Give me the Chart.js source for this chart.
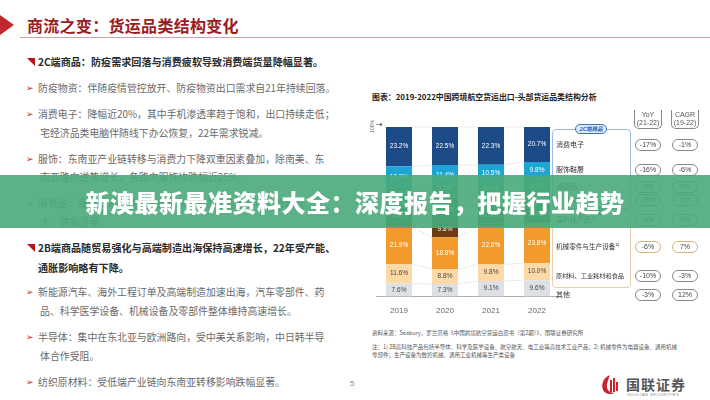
<!DOCTYPE html>
<html><head><meta charset="utf-8">
<script src="https://cdn.jsdelivr.net/npm/chart.js@4.4.0/dist/chart.umd.min.js"></script>
<style>
html,body{margin:0;padding:0;background:#fff;}
body{width:710px;height:400px;overflow:hidden;font-family:"Noto Sans CJK SC","Noto Sans",sans-serif;}
#root{position:relative;width:710px;height:400px;}
.t{position:absolute;white-space:nowrap;line-height:1;}
.body{font-size:9.9px;color:#6a6a6a;}
.hd{font-size:10.1px;color:#2a2a2a;font-weight:700;}
.arr{position:absolute;font-family:"DejaVu Sans";font-size:9px;color:#c0282d;line-height:1;}
.tri{position:absolute;width:0;height:0;border-top:8px solid #b0161c;border-left:8px solid transparent;}
.lg{position:absolute;font-size:7px;color:#333;white-space:nowrap;line-height:1;}
.pill{position:absolute;width:24px;height:10px;border:1px solid #888;border-radius:6px;font-family:"Liberation Sans",Arial;font-size:7px;color:#444;text-align:center;line-height:10px;box-sizing:content-box;}
.hdrbox{position:absolute;width:26px;height:17px;border:1px solid #888;border-top:none;border-radius:0 0 5px 5px;font-family:"Liberation Sans",Arial;font-size:7px;color:#555;text-align:center;line-height:8px;padding-top:1px;}
#banner{position:absolute;left:0;top:175px;width:710px;height:53px;background:rgba(74,170,122,0.9);}
#bannertext{position:absolute;left:0;top:175px;width:710px;height:53px;text-align:center;line-height:53px;color:#fff;font-size:24px;font-weight:900;letter-spacing:0.5px;}
</style></head>
<body><div id="root">
<!-- title -->
<div style="position:absolute;left:0;top:15px;width:0;height:0;border-top:10px solid transparent;border-bottom:10px solid transparent;border-left:14px solid #c0282d;"></div>
<div class="t" style="left:27px;top:17px;font-size:16px;color:#9b1b1f;font-weight:700;letter-spacing:0.3px;">商流之变：货运品类结构变化</div>
<div style="position:absolute;left:20px;top:37px;width:690px;height:1px;background:#c9a3a3;"></div>

<!-- left text -->
<div class="tri" style="left:27px;top:58px;"></div>
<div class="t hd" style="left:38px;top:57px;">2C端商品：防疫需求回落与消费疲软导致消费端货量降幅显著。</div>
<div class="arr" style="left:26px;top:84px;">➢</div>
<div class="t body" style="left:38px;top:84px;">防疫物资：伴随疫情管控放开、防疫物资出口需求自21年持续回落。</div>
<div class="arr" style="left:26px;top:110px;">➢</div>
<div class="t body" style="left:38px;top:110px;">消费电子：降幅近20%，其中手机渗透率趋于饱和，出口持续走低；</div>
<div class="t body" style="left:40px;top:129px;">宅经济品类电脑伴随线下办公恢复，22年需求锐减。</div>
<div class="arr" style="left:26px;top:155px;">➢</div>
<div class="t body" style="left:38px;top:155px;">服饰：东南亚产业链转移与消费力下降双重因素叠加，除南美、东</div>
<div class="t body" style="left:40px;top:173px;">南亚路向逆势增长，各路向服饰均跌幅近25%。</div>
<div class="arr" style="left:26px;top:199px;">➢</div>
<div class="t body" style="left:38px;top:199px;">消费品：海外高通胀抑制消费需求，叠加去库存影响，降幅较</div>
<div class="t body" style="left:40px;top:218px;">大，跌幅显著。</div>
<div class="tri" style="left:27px;top:244px;"></div>
<div class="t hd" style="left:38px;top:243px;">2B端商品随贸易强化与高端制造出海保持高速增长，22年受产能、</div>
<div class="t hd" style="left:38px;top:263px;">通胀影响略有下降。</div>
<div class="arr" style="left:26px;top:288px;">➢</div>
<div class="t body" style="left:38px;top:288px;">新能源汽车、海外工程订单及高端制造加速出海，汽车零部件、药</div>
<div class="t body" style="left:40px;top:307px;">品、科学医学设备、机械设备及零部件整体维持高速增长。</div>
<div class="arr" style="left:26px;top:333px;">➢</div>
<div class="t body" style="left:38px;top:333px;">半导体：集中在东北亚与欧洲路向，受中美关系影响，中日韩半导</div>
<div class="t body" style="left:40px;top:352px;">体合作受阻。</div>
<div class="arr" style="left:26px;top:378px;">➢</div>
<div class="t body" style="left:38px;top:378px;">纺织原材料：受低端产业链向东南亚转移影响跌幅显著。</div>
<div class="t" style="left:350px;top:380px;font-size:8px;color:#888;font-family:'Liberation Sans';">5</div>

<!-- chart title -->
<div class="t" style="left:372px;top:93px;font-size:7.9px;color:#222;font-weight:700;">图表：2019-2022中国跨境航空货运出口-头部货运品类结构分析</div>
<div class="t" style="left:366px;top:124px;font-size:5px;color:#555;transform:rotate(-90deg);font-family:'Liberation Sans';">100%</div>
<div class="t" style="left:376px;top:121px;font-size:8px;color:#333;font-family:'DejaVu Sans';">→</div>

<canvas id="c" width="210" height="220" style="position:absolute;left:360px;top:100px;width:210px;height:220px;"></canvas>

<!-- legend boxes -->
<div style="position:absolute;left:552px;top:129px;width:77px;height:78px;border:1px solid #9dbbe0;border-radius:4px;"></div>
<div style="position:absolute;left:575px;top:124px;width:30px;height:8px;background:#dce9f8;border:1px solid #3a74bd;border-radius:5px;font-size:5.5px;color:#2d62aa;font-style:italic;font-weight:700;text-align:center;line-height:8px;">2C端商品</div>
<div style="position:absolute;left:552px;top:209px;width:77px;height:77px;border:1px solid #e6cfae;border-radius:4px;"></div>
<div style="position:absolute;left:576px;top:207px;width:28px;height:6px;background:#d4eed9;border:1px solid #3f9b5a;border-radius:4px;font-size:5px;color:#2f7a45;font-style:italic;font-weight:700;text-align:center;line-height:6px;">2B端商品</div>
<div id="legend"></div>
<div class="hdrbox" style="left:634px;top:110px;">YoY<br>(21-22)</div>
<div class="hdrbox" style="left:671px;top:110px;">CAGR<br>(19-22)</div>

<!-- footnotes -->
<div class="t" style="left:372px;top:331px;font-size:5.5px;color:#555;">资料来源：Seabury，罗兰贝格《中国跨境航空货运白皮书（第2期）》，国联证券研究所</div>
<div class="t" style="left:372px;top:345px;font-size:5.5px;color:#555;">注：1) 2B高科技产品包括半导体、科学及医学设备、航空航天、电工业等高技术工业产品；2) 机械零件为电器设备、通用机械</div>
<div class="t" style="left:372px;top:353px;font-size:5.5px;color:#555;">零部件；生产设备为数控机械、通用工业机械等生产类设备</div>

<!-- logo -->
<svg style="position:absolute;left:600px;top:374px;" width="20" height="22" viewBox="0 0 20 22">
<path d="M10 1 C3 4 1 10 3 16 C5 20 10 21 15 19 C9 19 6 15 7 10 C8 6 9 3 10 1 Z" fill="#c9242b"/>
<rect x="10" y="6" width="2" height="12" fill="#c9242b"/><rect x="13" y="4" width="2" height="14" fill="#c9242b"/><rect x="16" y="8" width="2" height="9" fill="#c9242b"/>
</svg>
<div class="t" style="left:626px;top:377px;font-size:14px;color:#555;font-weight:700;letter-spacing:1px;">国联证券</div>
<div class="t" style="left:627px;top:393px;font-size:4px;color:#888;font-family:'Liberation Sans';letter-spacing:0.5px;">GUOLIAN SECURITIES</div>

<div id="banner"></div>
<div id="bannertext">新澳最新最准资料大全：深度报告，把握行业趋势</div>
</div>
<script>
const years = ["2019","2020","2021","2022"];
const other      = [7.6, 7.3, 9.1, 9.6];
const rawMat     = [11.6, 8.8, 9.8, 10.0];
const machinery  = [21.9, 18.8, 22.6, 23.8];
const medical    = [2.3, 9.8, 1.5, 0];
const hightech   = [9.3, 13.9, 10.1, 10.5];
const epidemic   = [3.7, 2.5, 5.9, 6.5];
const consumer   = [7.6, 5.0, 8.2, 9.1];
const apparel    = [12.8, 11.4, 10.5, 9.8];
const electronics= [23.2, 22.5, 22.3, 20.7];

const legendNames = ["消费电子","服饰鞋履","消费品","防疫物资","高科技产品¹⁾","机械零件与生产设备²⁾","原材料、工业耗材和食品","其他"];
const yoy  = ["-17%","-16%","-9%","-20%","-6%","-6%","-10%","-3%"];
const cagr = ["-1%","-6%","6%","1%","6%","7%","-3%","12%"];
const legendY = [145,170,187,200,220,247,276,295];

const lg = document.getElementById('legend');
legendNames.forEach((n,i)=>{
  const d=document.createElement('div'); d.className='lg'; d.textContent=n;
  d.style.left='556px'; d.style.top=(legendY[i]-4)+'px';
  if(i===6){ d.style.fontSize='6.2px'; d.style.top=(legendY[i]-3)+'px'; }
  if(i===5){ d.style.fontSize='6.6px'; }
  lg.appendChild(d);
  [[yoy,635],[cagr,672]].forEach(([arr,x])=>{
    const p=document.createElement('div'); p.className='pill'; p.textContent=arr[i];
    p.style.left=x+'px'; p.style.top=(legendY[i]-6)+'px';
    if(i===5) p.style.borderColor='#d9b27a';
    lg.appendChild(p);
  });
});

const series = [
  {label:"其他", data:other, color:"#dde1e5", txt:"#444"},
  {label:"原材料、工业耗材和食品", data:rawMat, color:"#fdd9a6", txt:"#444"},
  {label:"机械零件与生产设备", data:machinery, color:"#f39a2c", txt:"#fff"},
  {label:"医疗用品", data:medical, color:"#6e3b14", txt:"#fff"},
  {label:"高科技产品", data:hightech, color:"#2c7a4b", txt:"#fff"},
  {label:"防疫物资", data:epidemic, color:"#5fb37a", txt:"#fff"},
  {label:"消费品", data:consumer, color:"#22a38c", txt:"#fff"},
  {label:"服饰鞋履", data:apparel, color:"#1ba6d6", txt:"#fff"},
  {label:"消费电子", data:electronics, color:"#1d4b87", txt:"#fff"}
];

const labelPlugin = {
  id:'segLabels',
  afterDatasetsDraw(chart){
    const ctx=chart.ctx; ctx.save();
    ctx.font='6.5px "Liberation Sans", Arial'; ctx.textAlign='center'; ctx.textBaseline='middle';
    chart.data.datasets.forEach((ds,di)=>{
      chart.getDatasetMeta(di).data.forEach((el,i)=>{
        const v=ds.data[i]; if(v<5) return;
        ctx.fillStyle=series[di].txt;
        ctx.fillText(v.toFixed(1)+'%', el.x, (el.y+el.base)/2);
      });
    });
    ctx.restore();
  }
};
const connPlugin = {
  id:'connectors',
  afterDatasetsDraw(chart){
    const ctx=chart.ctx; ctx.save();
    ctx.strokeStyle='#c8c8c8'; ctx.lineWidth=0.7; ctx.setLineDash([1.5,1.5]);
    chart.data.datasets.forEach((ds,di)=>{
      const els=chart.getDatasetMeta(di).data;
      for(let i=0;i<els.length-1;i++){
        const a=els[i], b=els[i+1];
        ctx.beginPath();
        ctx.moveTo(a.x+a.width/2, a.y);
        ctx.lineTo(b.x-b.width/2, b.y);
        ctx.stroke();
      }
    });
    ctx.restore();
  }
};

new Chart(document.getElementById('c'), {
  type:'bar',
  data:{labels:years, datasets:series.map(s=>({label:s.label,data:s.data,backgroundColor:s.color,borderWidth:0}))},
  options:{
    responsive:false, animation:false, devicePixelRatio:1,
    layout:{padding:{left:16,right:10,top:27,bottom:2}},
    plugins:{legend:{display:false},tooltip:{enabled:false}},
    datasets:{bar:{categoryPercentage:1,barPercentage:0.565}},
    scales:{
      x:{stacked:true, grid:{display:false}, border:{display:true,color:'#999',width:0.8},
         ticks:{padding:2,color:'#666',font:{size:8,family:'"Liberation Sans", Arial'}}},
      y:{stacked:true, display:false, min:0, max:100}
    }
  },
  plugins:[connPlugin,labelPlugin]
});
</script>
</body></html>
